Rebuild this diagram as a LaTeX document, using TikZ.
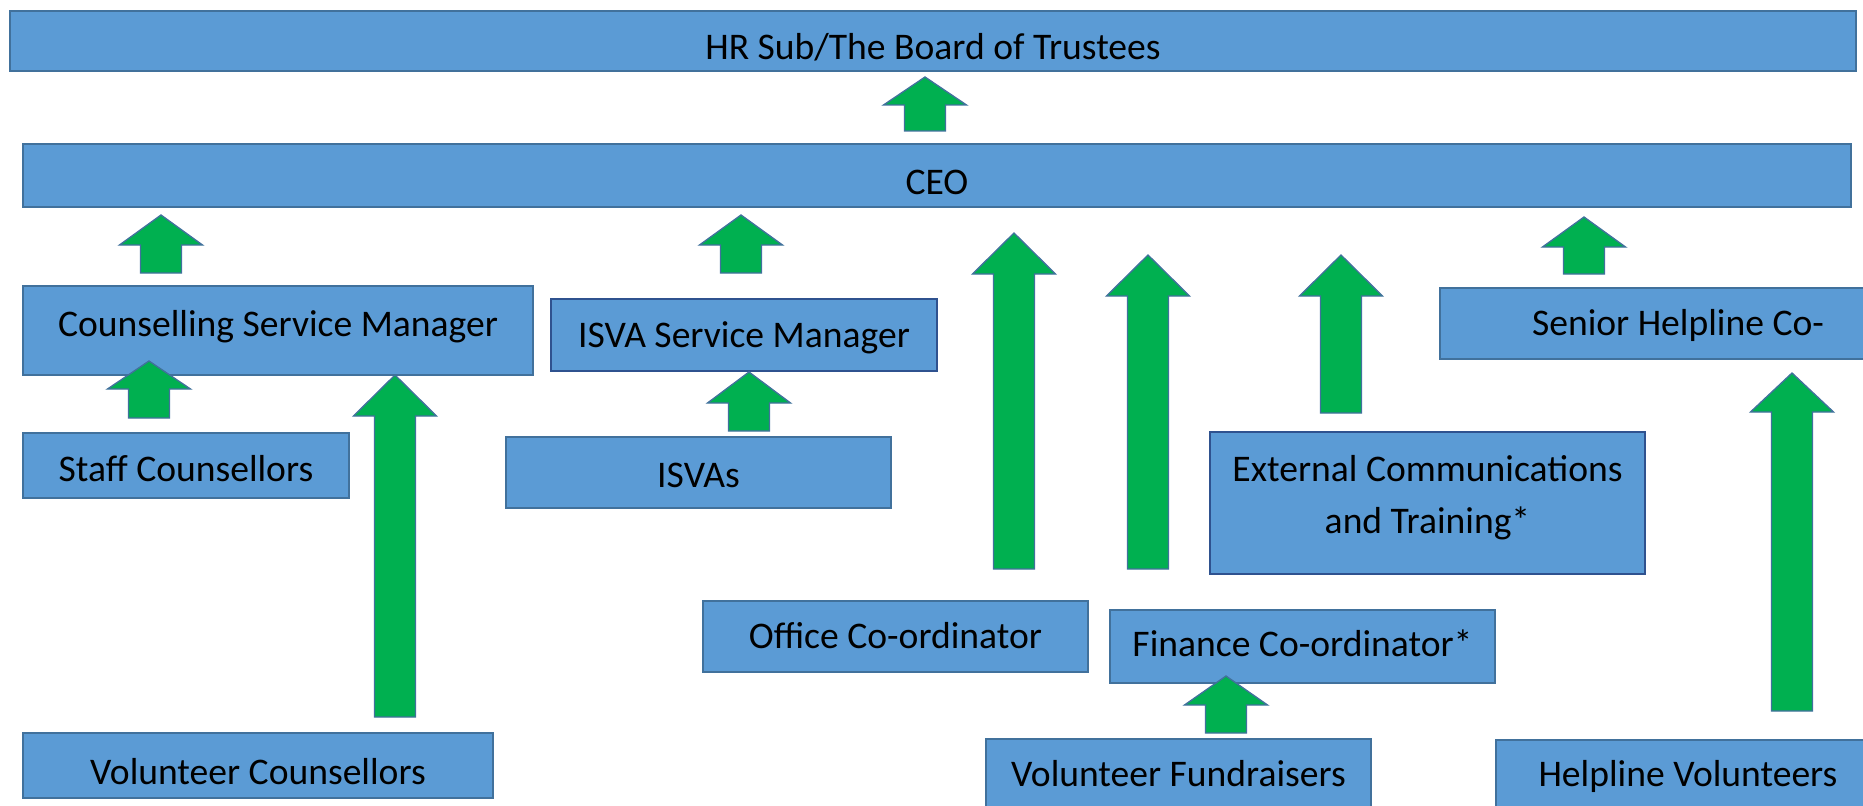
\documentclass[tikz,border=0pt]{standalone}
\usepackage{fontspec}
\setmainfont{Carlito}

\definecolor{boxblue}{HTML}{5B9BD5}
\definecolor{boxedge}{HTML}{41719C}
\definecolor{boxedgedark}{HTML}{2F528F}
\definecolor{arrowgreen}{HTML}{00B050}

% upward block arrow: centre x, tip y, head base y, bottom y
\newcommand{\blockarrow}[4]{%
    \draw[uparrow] ({#1-20.5},#4) -- ({#1-20.5},#3) -- ({#1-41.5},#3) -- (#1,#2)
        -- ({#1+41.5},#3) -- ({#1+20.5},#3) -- ({#1+20.5},#4) -- cycle;}

\begin{document}
\begin{tikzpicture}[x=0.75pt, y=-0.75pt,
    orgbox/.style={draw=boxedge, line width=1.5pt, fill=boxblue, inner sep=0pt,
        font=\fontsize{28.2}{39}\selectfont, align=center},
    oneline/.style={orgbox, text height=35pt, text depth=7pt},
    darkbox/.style={draw=boxedgedark},
    uparrow/.style={draw=boxedge, line width=1pt, fill=arrowgreen, line join=miter}]
    \clip (0,0) rectangle (1863,806);

    \node[oneline, minimum width=1384.5pt, minimum height=45pt] (board) at (933,41) {HR Sub/The Board of Trustees};
    \node[oneline, minimum width=1371pt, minimum height=47.25pt] (ceo) at (937,175.5) {CEO};

    \node[oneline, text depth=26.5pt, minimum width=382.5pt, minimum height=66.75pt] (csm) at (278,330.5) {Counselling Service Manager};
    \node[oneline, text depth=16pt, darkbox, minimum width=289.5pt, minimum height=54pt] (isvam) at (744,335) {ISVA Service Manager};
    \node[oneline, text depth=17.6pt, minimum width=357pt, minimum height=53.25pt] (senior) at (1678,323.5) {Senior Helpline Co-};

    \node[oneline, text depth=10.6pt, minimum width=244.5pt, minimum height=48.75pt] (staff) at (186,465.5) {Staff Counsellors};
    \node[oneline, text depth=13pt, minimum width=288.75pt, minimum height=53.25pt] (isvas) at (698.5,472.5) {ISVAs};
    \node[orgbox, text depth=13pt, darkbox, minimum width=326.25pt, minimum height=106.5pt] (extcomm) at (1427.5,503) {External Communications\\[0pt]and Training*};

    \node[oneline, text depth=17.6pt, minimum width=288.75pt, minimum height=53.25pt] (office) at (895.5,636.5) {Office Co-ordinator};
    \node[oneline, text depth=19.5pt, minimum width=288.75pt, minimum height=53.25pt] (finance) at (1302.5,646.5) {Finance Co-ordinator*};

    \node[oneline, minimum width=352.5pt, minimum height=48.75pt] (volcouns) at (258,765.5) {Volunteer Counsellors};
    \node[oneline, text depth=16pt, minimum width=288.75pt, minimum height=51.75pt] (volfund) at (1178.5,773.5) {Volunteer Fundraisers};
    \node[oneline, text depth=16pt, minimum width=288pt, minimum height=51pt] (helpvol) at (1688,774) {Helpline Volunteers};

    % arrows
    \blockarrow{925}{77}{105}{131}
    \blockarrow{161}{215}{245}{273}
    \blockarrow{741}{215}{245}{273}
    \blockarrow{1014}{233}{274}{569}
    \blockarrow{1148}{255}{296}{569}
    \blockarrow{1341}{255}{296}{413}
    \blockarrow{1584}{217}{247}{274}
    \blockarrow{149}{361}{389}{418}
    \blockarrow{749}{372}{403}{431}
    \blockarrow{395}{375}{416}{717}
    \blockarrow{1226}{676}{705}{733}
    \blockarrow{1792}{373}{412}{711}
\end{tikzpicture}
\end{document}
